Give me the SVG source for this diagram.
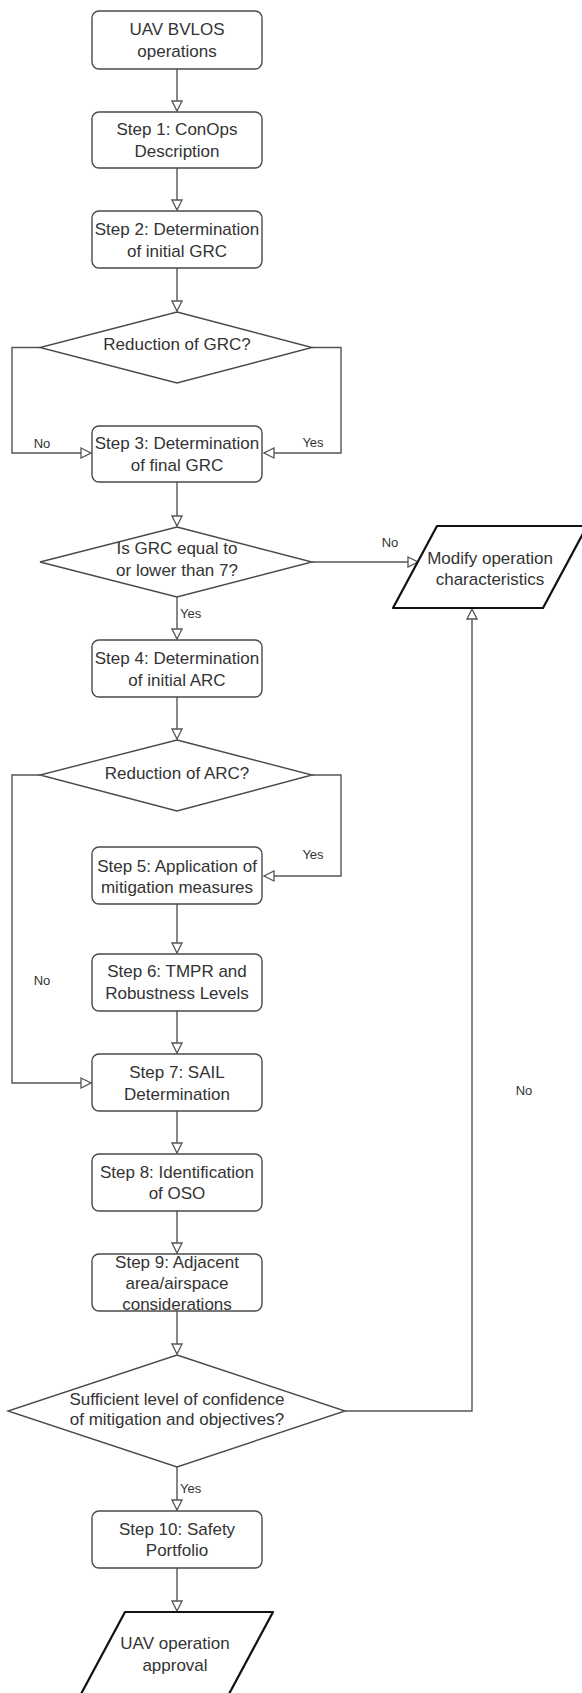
<svg xmlns="http://www.w3.org/2000/svg" width="582" height="1693" viewBox="0 0 582 1693">
<style>
.box{fill:#fff;stroke:#4a4a4a;stroke-width:1.4}
.io{fill:#fff;stroke:#111;stroke-width:2.2;stroke-linejoin:round}
.t{font-family:"Liberation Sans",Arial,sans-serif;font-size:17px;fill:#333;text-anchor:middle}
.lbl{font-family:"Liberation Sans",Arial,sans-serif;font-size:13px;fill:#333}
.c{fill:none;stroke:#555;stroke-width:1.4;marker-end:url(#arr)}
</style>
<defs>
<marker id="arr" viewBox="0 0 12 12" refX="11" refY="6" markerWidth="12" markerHeight="12" markerUnits="userSpaceOnUse" orient="auto">
<path d="M1,1 L11,6 L1,11 Z" fill="#fff" stroke="#555" stroke-width="1.3"/>
</marker>
</defs>
<rect width="582" height="1693" fill="#fff"/>
<g id="connectors">
<path class="c" d="M177,69 V111"/>
<path class="c" d="M177,168 V210"/>
<path class="c" d="M177,268 V311"/>
<path class="c" d="M40,347.5 H12 V453 H91"/>
<path class="c" d="M312,347.5 H341 V453 H264"/>
<path class="c" d="M177,482 V526"/>
<path class="c" d="M312,562 H418"/>
<path class="c" d="M177,597 V639"/>
<path class="c" d="M177,697 V739"/>
<path class="c" d="M312,775 H341 V876 H264"/>
<path class="c" d="M40,775 H12 V1083 H91"/>
<path class="c" d="M177,904 V953"/>
<path class="c" d="M177,1011 V1053"/>
<path class="c" d="M177,1111 V1153"/>
<path class="c" d="M177,1211 V1253"/>
<path class="c" d="M177,1311 V1354"/>
<path class="c" d="M345,1411 H472 V609"/>
<path class="c" d="M177,1467 V1510"/>
<path class="c" d="M177,1568 V1611"/>
<text class="lbl" x="42" y="448" text-anchor="middle">No</text>
<text class="lbl" x="313" y="447" text-anchor="middle">Yes</text>
<text class="lbl" x="390" y="547" text-anchor="middle">No</text>
<text class="lbl" x="180" y="618">Yes</text>
<text class="lbl" x="313" y="859" text-anchor="middle">Yes</text>
<text class="lbl" x="42" y="985" text-anchor="middle">No</text>
<text class="lbl" x="524" y="1095" text-anchor="middle">No</text>
<text class="lbl" x="180" y="1493">Yes</text>
</g>
<g id="n0"><rect class="box" x="92" y="11" width="170" height="58" rx="7"/><text class="t" x="177" y="35">UAV BVLOS</text><text class="t" x="177" y="57">operations</text></g>
<g id="n1"><rect class="box" x="92" y="112" width="170" height="56" rx="7"/><text class="t" x="177" y="135">Step 1: ConOps</text><text class="t" x="177" y="157">Description</text></g>
<g id="n2"><rect class="box" x="92" y="211" width="170" height="57" rx="7"/><text class="t" x="177" y="235">Step 2: Determination</text><text class="t" x="177" y="257">of initial GRC</text></g>
<g id="d1"><polygon class="box" points="177,312 312,347.5 177,383 40,347.5"/><text class="t" x="177" y="350">Reduction of GRC?</text></g>
<g id="n3"><rect class="box" x="92" y="426" width="170" height="56" rx="7"/><text class="t" x="177" y="449">Step 3: Determination</text><text class="t" x="177" y="471">of final GRC</text></g>
<g id="d2"><polygon class="box" points="177,527 312,562 177,597 40,562"/><text class="t" x="177" y="554">Is GRC equal to</text><text class="t" x="177" y="576">or lower than 7?</text></g>
<g id="modify"><polygon class="io" points="437,526 587,526 543,608 393,608"/><text class="t" x="490" y="564">Modify operation</text><text class="t" x="490" y="585">characteristics</text></g>
<g id="n4"><rect class="box" x="92" y="640" width="170" height="57" rx="7"/><text class="t" x="177" y="664">Step 4: Determination</text><text class="t" x="177" y="686">of initial ARC</text></g>
<g id="d3"><polygon class="box" points="177,740 312,775 177,811 40,775"/><text class="t" x="177" y="779">Reduction of ARC?</text></g>
<g id="n5"><rect class="box" x="92" y="847" width="170" height="57" rx="7"/><text class="t" x="177" y="872">Step 5: Application of</text><text class="t" x="177" y="893">mitigation measures</text></g>
<g id="n6"><rect class="box" x="92" y="954" width="170" height="57" rx="7"/><text class="t" x="177" y="977">Step 6: TMPR and</text><text class="t" x="177" y="999">Robustness Levels</text></g>
<g id="n7"><rect class="box" x="92" y="1054" width="170" height="57" rx="7"/><text class="t" x="177" y="1078">Step 7: SAIL</text><text class="t" x="177" y="1100">Determination</text></g>
<g id="n8"><rect class="box" x="92" y="1154" width="170" height="57" rx="7"/><text class="t" x="177" y="1178">Step 8: Identification</text><text class="t" x="177" y="1199">of OSO</text></g>
<g id="n9"><rect class="box" x="92" y="1254" width="170" height="57" rx="7"/><text class="t" x="177" y="1268">Step 9: Adjacent</text><text class="t" x="177" y="1289">area/airspace</text><text class="t" x="177" y="1310">considerations</text></g>
<g id="d4"><polygon class="box" points="177,1355 345,1411 177,1467 8,1411"/><text class="t" x="177" y="1405">Sufficient level of confidence</text><text class="t" x="177" y="1425">of mitigation and objectives?</text></g>
<g id="n10"><rect class="box" x="92" y="1511" width="170" height="57" rx="7"/><text class="t" x="177" y="1535">Step 10: Safety</text><text class="t" x="177" y="1556">Portfolio</text></g>
<g id="approval"><polygon class="io" points="125,1612 273,1612 229,1694 81,1694"/><text class="t" x="175" y="1649">UAV operation</text><text class="t" x="175" y="1671">approval</text></g>
</svg>
